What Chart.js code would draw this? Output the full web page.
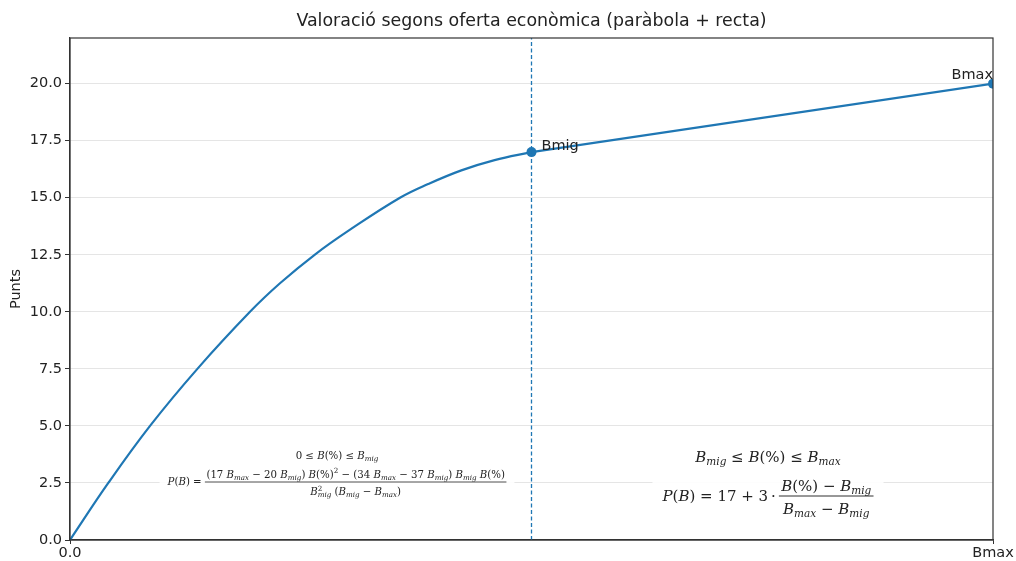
<!DOCTYPE html>
<html>
<head>
<meta charset="utf-8">
<script src="https://cdn.jsdelivr.net/npm/chart.js@4/dist/chart.umd.min.js"></script>
<style>
  html, body { margin: 0; padding: 0; background: #fff; }
</style>
</head>
<body>
<canvas id="chart1" width="1016" height="561"></canvas>
<script>
// B as a fraction of Bmax (0 .. 1)
const parabolaB = [0, 0.0415, 0.0867, 0.138, 0.195, 0.2275, 0.265, 0.3034, 0.3575, 0.388, 0.424, 0.460, 0.5];
const parabolaP = [0, 2.5, 5.0, 7.5, 10.0, 11.25, 12.5, 13.6, 15.0, 15.6, 16.2, 16.65, 17.0];
const rectaB = [0.5, 1.0];
const rectaP = [17.0, 20.0];
const markerB = [0.5, 1.0];
const markerP = [17.0, 20.0];
const markerLabels = ['Bmig', 'Bmax'];
const migLineB = [0.5, 0.5];
const migLineP = [0, 22];
const yTicks = [0, 2.5, 5, 7.5, 10, 12.5, 15, 17.5, 20];
const xTicks = [0, 1];
const xTickLabels = ['0.0', 'Bmax'];

const titleText = 'Valoració segons oferta econòmica (paràbola + recta)';
const yTitle = 'Punts';

let lineColor = '#1f77b4';
let textColor = '#222';
let axisColor = '#333';
let sans = '"DejaVu Sans", sans-serif';

function toXY(xs, ys) {
    return xs.map((x, i) => ({x: x, y: ys[i]}));
}

// ---- tiny mathtext helpers ----
// kinds: r = upright, i = italic, b = subscript, p = superscript, P = superscript without advance
function mathFont(size, kind) {
    let italic = (kind === 'i' || kind === 'b');
    return (italic ? 'italic ' : '') + size + 'px "DejaVu Serif", serif';
}
function tokSize(size, kind) {
    return (kind === 'b' || kind === 'p' || kind === 'P') ? size * 0.7 : size;
}
function runWidth(ctx, tokens, size) {
    let w = 0;
    tokens.forEach(t => {
        if (t[1] === 'P') return;
        ctx.font = mathFont(tokSize(size, t[1]), t[1]);
        w += ctx.measureText(t[0]).width;
    });
    return w;
}
function drawRun(ctx, tokens, x, y, size) {
    tokens.forEach(t => {
        let k = t[1];
        let dy = k === 'b' ? size * 0.28 : (k === 'p' || k === 'P') ? -size * 0.38 : 0;
        ctx.font = mathFont(tokSize(size, k), k);
        ctx.fillText(t[0], x, y + dy);
        if (k !== 'P') x += ctx.measureText(t[0]).width;
    });
    return x;
}
function drawFormula(ctx, f) {
    ctx.save();
    ctx.textBaseline = 'middle';
    ctx.textAlign = 'left';
    let s = f.size;
    let w1 = runWidth(ctx, f.line1, s);
    let wp = runWidth(ctx, f.prefix, s);
    let wn = runWidth(ctx, f.num, s);
    let wd = runWidth(ctx, f.den, s);
    let wf = Math.max(wn, wd) + s * 0.3;
    let total = wp + wf;
    let boxW = Math.max(total, w1) + 2 * f.pad;
    // white box behind
    ctx.fillStyle = 'rgba(255,255,255,0.9)';
    ctx.beginPath();
    let top = f.y1 - s * 1.1;
    ctx.roundRect(f.cx - boxW / 2, top, boxW, (f.bar + s * 1.9) - top, 4);
    ctx.fill();
    ctx.fillStyle = textColor;
    drawRun(ctx, f.line1, f.cx - w1 / 2, f.y1, s);
    let x0 = f.cx - total / 2;
    drawRun(ctx, f.prefix, x0, f.bar + s * 0.05, s);
    let fx = x0 + wp;
    drawRun(ctx, f.num, fx + (wf - wn) / 2, f.bar - s * f.numOff, s);
    drawRun(ctx, f.den, fx + (wf - wd) / 2, f.bar + s * f.denOff, s);
    ctx.strokeStyle = textColor;
    ctx.lineWidth = Math.max(0.8, s / 16);
    ctx.beginPath();
    ctx.moveTo(fx, f.bar);
    ctx.lineTo(fx + wf, f.bar);
    ctx.stroke();
    ctx.restore();
}

const leftFormula = {
    size: 10.2, cx: 337, y1: 456, bar: 482, pad: 8, numOff: 0.65, denOff: 1.05,
    line1: [['0', 'r'], [' ≤ ', 'r'], ['B', 'i'], ['(%)', 'r'], [' ≤ ', 'r'], ['B', 'i'], ['mig', 'b']],
    prefix: [['P', 'i'], ['(', 'r'], ['B', 'i'], [') = ', 'r']],
    num: [['(17 ', 'r'], ['B', 'i'], ['max', 'b'], [' − 20 ', 'r'], ['B', 'i'], ['mig', 'b'], [') ', 'r'],
          ['B', 'i'], ['(%)', 'r'], ['2', 'p'], [' − (34 ', 'r'], ['B', 'i'], ['max', 'b'], [' − 37 ', 'r'],
          ['B', 'i'], ['mig', 'b'], [') ', 'r'], ['B', 'i'], ['mig', 'b'], [' ', 'r'], ['B', 'i'], ['(%)', 'r']],
    den: [['B', 'i'], ['2', 'P'], ['mig', 'b'], [' (', 'r'], ['B', 'i'], ['mig', 'b'], [' − ', 'r'],
          ['B', 'i'], ['max', 'b'], [')', 'r']]
};
const rightFormula = {
    size: 15, cx: 768, y1: 458, bar: 496, pad: 10, numOff: 0.62, denOff: 0.95,
    line1: [['B', 'i'], ['mig', 'b'], [' ≤ ', 'r'], ['B', 'i'], ['(%)', 'r'], [' ≤ ', 'r'], ['B', 'i'], ['max', 'b']],
    prefix: [['P', 'i'], ['(', 'r'], ['B', 'i'], [')', 'r'], [' = 17 + 3\u2009·\u2009', 'r']],
    num: [['B', 'i'], ['(%)', 'r'], [' − ', 'r'], ['B', 'i'], ['mig', 'b']],
    den: [['B', 'i'], ['max', 'b'], [' − ', 'r'], ['B', 'i'], ['mig', 'b']]
};

const decorPlugin = {
    id: 'decor',
    afterDraw(chart) {
        let ctx = chart.ctx;
        let a = chart.chartArea;
        let xs = chart.scales.x, ys = chart.scales.y;
        ctx.save();
        ctx.strokeStyle = axisColor;
        ctx.lineWidth = 1.2;
        ctx.strokeRect(a.left, a.top, a.right - a.left, a.bottom - a.top);
        // title centred over the axes
        ctx.fillStyle = textColor;
        ctx.textAlign = 'center';
        ctx.textBaseline = 'middle';
        ctx.font = '17.4px ' + sans;
        ctx.fillText(titleText, (a.left + a.right) / 2, 21);
        // point labels
        ctx.font = '14.5px ' + sans;
        ctx.textAlign = 'left';
        ctx.fillText(markerLabels[0], xs.getPixelForValue(markerB[0]) + 10, ys.getPixelForValue(markerP[0]) - 6);
        ctx.textAlign = 'right';
        ctx.fillText(markerLabels[1], xs.getPixelForValue(markerB[1]), ys.getPixelForValue(markerP[1]) - 8);
        ctx.restore();
        drawFormula(ctx, leftFormula);
        drawFormula(ctx, rightFormula);
    }
};

let ctx1 = document.getElementById('chart1').getContext('2d');
let chart = new Chart(ctx1, {
    type: 'line',
    data: {
        datasets: [{
            label: 'paràbola',
            data: toXY(parabolaB, parabolaP),
            borderColor: lineColor,
            borderWidth: 2.2,
            pointRadius: 0,
            tension: 0.4,
            fill: false
        }, {
            label: 'recta',
            data: toXY(rectaB, rectaP),
            borderColor: lineColor,
            borderWidth: 2.2,
            pointRadius: 0,
            tension: 0,
            fill: false
        }, {
            label: 'Bmig',
            data: toXY(migLineB, migLineP),
            borderColor: lineColor,
            borderWidth: 1.3,
            borderDash: [4, 2.5],
            pointRadius: 0,
            fill: false
        }, {
            label: 'punts',
            data: toXY(markerB, markerP),
            showLine: false,
            pointRadius: 5,
            pointBackgroundColor: lineColor,
            pointBorderColor: lineColor,
            pointBorderWidth: 0
        }]
    },
    options: {
        responsive: false,
        animation: false,
        layout: {padding: {left: 0, right: 23, top: 38, bottom: 0}},
        plugins: {
            legend: {display: false},
            tooltip: {enabled: false},
            title: {display: false}
        },
        scales: {
            x: {
                type: 'linear',
                min: 0,
                max: 1,
                afterBuildTicks: s => { s.ticks = xTicks.map(v => ({value: v})); },
                afterFit: s => { s.height = 21; },
                grid: {drawOnChartArea: false, drawTicks: true, tickLength: 4, tickColor: axisColor},
                border: {display: true, color: axisColor, width: 1.2},
                ticks: {
                    color: textColor,
                    padding: 1,
                    maxRotation: 0,
                    font: {family: sans, size: 14.5},
                    callback: (v, i) => xTickLabels[i]
                }
            },
            y: {
                type: 'linear',
                min: 0,
                max: 22,
                afterBuildTicks: s => { s.ticks = yTicks.map(v => ({value: v})); },
                afterFit: s => { s.width = 70; },
                grid: {color: 'rgba(0,0,0,0.1)', lineWidth: 1, tickLength: 5, tickColor: axisColor},
                border: {display: true, color: axisColor, width: 1.2},
                ticks: {
                    color: textColor,
                    padding: 3,
                    font: {family: sans, size: 14.5},
                    callback: v => v.toFixed(1)
                },
                title: {
                    display: true,
                    text: yTitle,
                    color: textColor,
                    font: {family: sans, size: 14.5},
                    padding: {top: 8, bottom: 0}
                }
            }
        }
    },
    plugins: [decorPlugin]
});
</script>
</body>
</html>
